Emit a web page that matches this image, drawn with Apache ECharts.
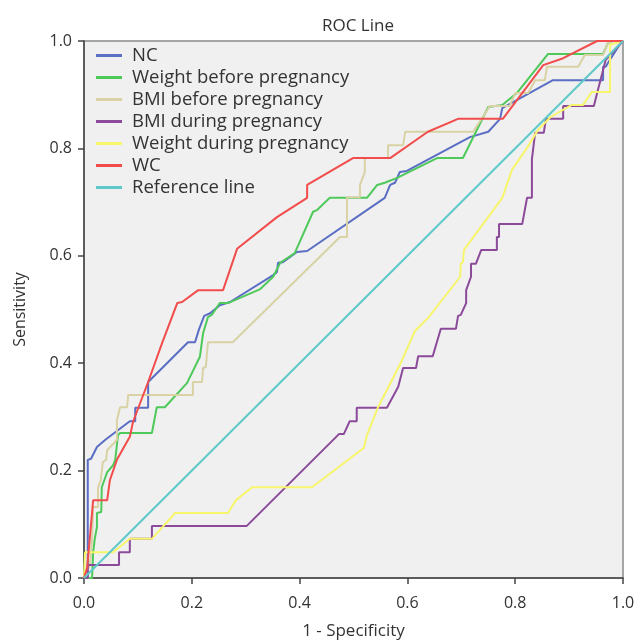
<!DOCTYPE html>
<html>
<head>
<meta charset="utf-8">
<script src="https://cdn.jsdelivr.net/npm/echarts@6/dist/echarts.min.js"></script>
<style>html,body{margin:0;padding:0;background:#fff;}#c{width:638px;height:641px;}</style>
</head>
<body>
<div id="c"></div>
<script>
var seriesNames = ['NC','Weight before pregnancy','BMI before pregnancy','BMI during pregnancy','Weight during pregnancy','WC','Reference line'];
var xTicks = [0, 0.2, 0.4, 0.6, 0.8, 1.0];

var nc = [[0,0],[0.007,0],[0.007,0.220],[0.013,0.222],[0.024,0.244],[0.039,0.257],[0.085,0.292],[0.095,0.292],[0.095,0.317],[0.119,0.317],[0.119,0.365],[0.193,0.439],[0.206,0.439],[0.213,0.462],[0.223,0.488],[0.234,0.493],[0.252,0.508],[0.271,0.514],[0.351,0.564],[0.358,0.570],[0.360,0.587],[0.369,0.588],[0.395,0.607],[0.414,0.609],[0.558,0.708],[0.568,0.732],[0.577,0.736],[0.586,0.756],[0.599,0.758],[0.716,0.821],[0.750,0.831],[0.772,0.855],[0.776,0.875],[0.870,0.927],[0.963,0.927],[0.963,0.952],[0.968,0.952],[0.972,0.959],[0.998,1],[1,1]];

var weightBefore = [[0,0],[0.015,0],[0.017,0.048],[0.020,0.073],[0.024,0.095],[0.024,0.121],[0.032,0.123],[0.033,0.169],[0.043,0.197],[0.054,0.210],[0.058,0.220],[0.063,0.266],[0.067,0.270],[0.126,0.270],[0.135,0.318],[0.150,0.318],[0.191,0.363],[0.215,0.412],[0.221,0.456],[0.230,0.486],[0.237,0.490],[0.252,0.512],[0.267,0.512],[0.327,0.538],[0.351,0.561],[0.364,0.587],[0.391,0.605],[0.425,0.682],[0.432,0.685],[0.456,0.708],[0.525,0.708],[0.544,0.732],[0.558,0.736],[0.581,0.745],[0.655,0.782],[0.703,0.782],[0.750,0.877],[0.776,0.881],[0.803,0.903],[0.861,0.976],[0.963,0.976],[0.972,0.996],[0.981,1],[1,1]];

var bmiBefore = [[0,0],[0.011,0.024],[0.015,0.073],[0.017,0.132],[0.026,0.132],[0.026,0.168],[0.031,0.182],[0.035,0.216],[0.041,0.220],[0.043,0.238],[0.061,0.257],[0.061,0.294],[0.067,0.318],[0.080,0.318],[0.082,0.341],[0.202,0.341],[0.202,0.365],[0.219,0.365],[0.221,0.391],[0.226,0.393],[0.230,0.439],[0.276,0.439],[0.475,0.635],[0.488,0.635],[0.488,0.709],[0.512,0.709],[0.512,0.732],[0.521,0.756],[0.521,0.782],[0.564,0.782],[0.564,0.806],[0.592,0.806],[0.596,0.831],[0.722,0.831],[0.753,0.879],[0.790,0.879],[0.800,0.903],[0.824,0.903],[0.837,0.927],[0.855,0.927],[0.859,0.952],[0.917,0.952],[0.929,0.974],[0.963,0.974],[0.972,0.996],[0.980,1],[1,1]];

var bmiDuring = [[0,0],[0.007,0],[0.007,0.024],[0.065,0.024],[0.065,0.048],[0.085,0.048],[0.085,0.073],[0.126,0.073],[0.126,0.097],[0.302,0.097],[0.473,0.268],[0.482,0.268],[0.493,0.292],[0.506,0.292],[0.506,0.317],[0.562,0.317],[0.583,0.356],[0.592,0.391],[0.616,0.391],[0.620,0.413],[0.647,0.413],[0.662,0.464],[0.690,0.464],[0.694,0.488],[0.699,0.490],[0.709,0.512],[0.709,0.536],[0.718,0.561],[0.718,0.585],[0.727,0.585],[0.737,0.611],[0.766,0.611],[0.766,0.635],[0.770,0.635],[0.770,0.659],[0.813,0.659],[0.822,0.708],[0.831,0.708],[0.831,0.780],[0.837,0.829],[0.853,0.829],[0.857,0.855],[0.889,0.855],[0.889,0.879],[0.946,0.879],[0.952,0.903],[0.968,0.965],[1,1]];

var weightDuring = [[0,0],[0.002,0.048],[0.054,0.048],[0.085,0.073],[0.126,0.073],[0.169,0.121],[0.267,0.121],[0.282,0.145],[0.312,0.169],[0.423,0.169],[0.519,0.242],[0.525,0.266],[0.545,0.317],[0.586,0.397],[0.614,0.460],[0.620,0.466],[0.638,0.484],[0.698,0.561],[0.699,0.585],[0.703,0.588],[0.705,0.611],[0.776,0.708],[0.794,0.760],[0.822,0.801],[0.842,0.834],[0.865,0.858],[0.905,0.881],[0.926,0.881],[0.942,0.905],[0.976,0.905],[0.976,0.993],[1,1]];

var wc = [[0,0],[0.006,0.020],[0.017,0.145],[0.043,0.145],[0.048,0.182],[0.061,0.220],[0.085,0.263],[0.091,0.291],[0.119,0.365],[0.145,0.438],[0.173,0.512],[0.182,0.514],[0.212,0.536],[0.258,0.536],[0.284,0.613],[0.358,0.672],[0.414,0.708],[0.414,0.732],[0.499,0.782],[0.568,0.782],[0.638,0.831],[0.694,0.855],[0.777,0.855],[0.852,0.955],[0.889,0.968],[0.952,1],[1,1]];

var referenceLine = [[0,0],[1,1]];

var colors = ['#5a6ec4','#4ec95a','#d8d2a4','#8c4a9a','#f7f56c','#f24c4c','#5ec9c9'];
var datasets = [nc, weightBefore, bmiBefore, bmiDuring, weightDuring, wc, referenceLine];

var FONT = 'Open Sans';
var chart = echarts.init(document.getElementById('c'), null, {renderer:'canvas'});
chart.setOption({
  animation: false,
  backgroundColor: '#ffffff',
  color: colors,
  title: {
    text: 'ROC Line', left: 353, top: 13, textAlign: 'center',
    textStyle: {fontFamily: FONT, fontSize: 17, fontWeight: 'normal', color: '#333'}
  },
  legend: {
    orient: 'vertical', left: 91, top: 41, itemWidth: 26, itemHeight: 3, itemGap: 3,
    icon: 'rect',
    data: seriesNames,
    textStyle: {fontFamily: FONT, fontSize: 18.5, color: '#333', lineHeight: 18.5, padding: [0,0,0,5]}
  },
  grid: {
    left: 84, right: 15, top: 41, bottom: 63, show: true, containLabel: false,
    outerBoundsMode: 'none',
    backgroundColor: '#f0f0f0', borderColor: '#8a8a8a', borderWidth: 1.5
  },
  xAxis: {
    type: 'value', min: 0, max: 1, interval: 0.2,
    name: '1 - Specificity', nameLocation: 'middle', nameGap: 45,
    nameTextStyle: {fontFamily: FONT, fontSize: 17, color: '#333'},
    axisLine: {show: true, lineStyle: {color: '#444', width: 1.5}},
    axisTick: {show: true, length: 6, lineStyle: {color: '#444', width: 1.5}},
    axisLabel: {fontFamily: FONT, fontSize: 16, color: '#333', margin: 17, formatter: function(v){return v.toFixed(1);}},
    splitLine: {show: false}
  },
  yAxis: {
    type: 'value', min: 0, max: 1, interval: 0.2,
    name: 'Sensitivity', nameLocation: 'middle', nameGap: 56,
    nameTextStyle: {fontFamily: FONT, fontSize: 16, color: '#333'},
    axisLine: {show: true, lineStyle: {color: '#444', width: 1.5}},
    axisTick: {show: true, length: 6, lineStyle: {color: '#444', width: 1.5}},
    axisLabel: {fontFamily: FONT, fontSize: 16, color: '#333', margin: 12, formatter: function(v){return v.toFixed(1);}},
    splitLine: {show: false}
  },
  series: seriesNames.map(function(n, i){
    return {
      name: n, type: 'line', data: datasets[i], symbol: 'none', showSymbol: false,
      lineStyle: {width: 2, color: colors[i]}, itemStyle: {color: colors[i]}
    };
  })
});
</script>
</body>
</html>
